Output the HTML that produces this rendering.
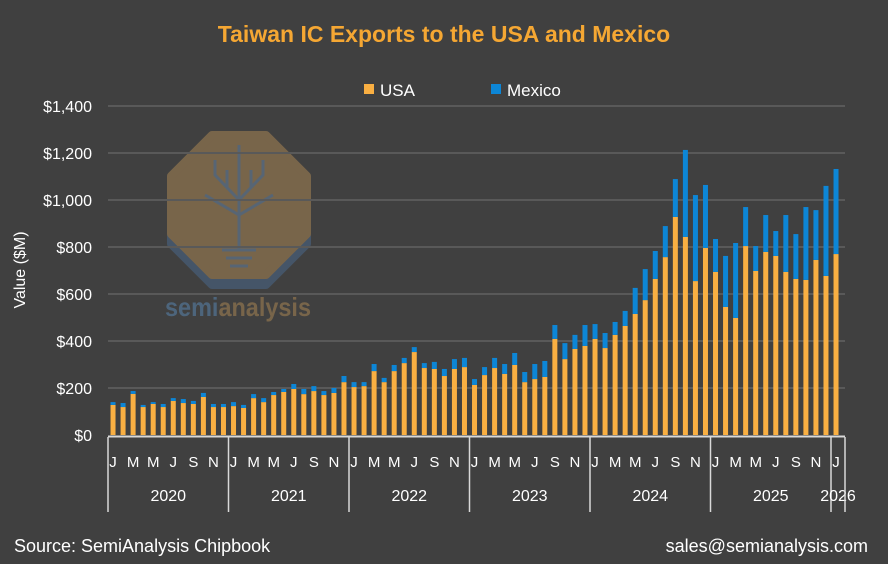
<!DOCTYPE html>
<html><head><meta charset="utf-8"><style>
html,body{margin:0;padding:0;background:#404040;}
svg{display:block;font-family:"Liberation Sans",Arial,sans-serif;}
</style></head><body>
<svg id="chart" width="888" height="564" viewBox="0 0 888 564">
<rect x="0" y="0" width="888" height="564" fill="#404040"/>
<text x="444" y="42" text-anchor="middle" font-size="23" font-weight="bold" fill="#F5A733">Taiwan IC Exports to the USA and Mexico</text>
<g>
<g><rect x="364" y="84" width="10" height="10" fill="#F9AF42"/><text x="380" y="96" font-size="17" fill="#ffffff">USA</text></g>
<g><rect x="491" y="84" width="10" height="10" fill="#0D86D6"/><text x="507" y="96" font-size="17" fill="#ffffff">Mexico</text></g>
</g>
<g opacity="0.5">
<polygon points="212,145 266,145 307,186 307,244 266,285 212,285 171,244 171,186" fill="#4a6a90" stroke="#4a6a90" stroke-width="8" stroke-linejoin="round"/>
<polygon points="212,135 266,135 307,176 307,234 266,275 212,275 171,234 171,176" fill="#B08A55" stroke="#B08A55" stroke-width="8" stroke-linejoin="round"/>
<g stroke="#6f8aa8" stroke-width="3" fill="none">
<path d="M239,145 V250 M239,200 L215,175 V160 M239,200 L263,175 V160 M239,215 L205,195 M239,215 L273,195 M227,188 V170 M251,188 V170"/>
<path d="M222,250 H256 M226,258 H252 M230,266 H248"/>
</g>
<text x="238" y="316" text-anchor="middle" font-size="26" font-weight="bold" textLength="146" lengthAdjust="spacingAndGlyphs"><tspan fill="#5a8ab8">semi</tspan><tspan fill="#B08A55">analysis</tspan></text>
</g>
<g id="grid"></g>
<g id="yaxis"></g>
<text transform="translate(25,270) rotate(-90)" text-anchor="middle" font-size="16" fill="#ffffff">Value ($M)</text>
<g id="bars"></g>
<g id="xaxis"></g>
<text x="14" y="552" font-size="18" fill="#ffffff">Source: SemiAnalysis Chipbook</text>
<text x="868" y="552" text-anchor="end" font-size="18" fill="#ffffff">sales@semianalysis.com</text>
</svg>
<script>
const years = ["2020","2021","2022","2023","2024","2025","2026"];
const monthLetters = ["J","F","M","A","M","J","J","A","S","O","N","D"];
const yTicks = [0,200,400,600,800,1000,1200,1400];
const usaValues = [128,119,175,119,132,119,145,136,132,162,119,119,
123,115,157,140,170,183,196,174,187,170,179,225,
204,208,272,225,272,306,353,285,281,251,281,289,
213,255,285,260,298,225,238,247,409,323,366,379,
409,370,426,464,515,574,664,757,928,843,655,796,
694,545,498,804,698,779,762,694,664,660,745,677,
770];
const totalValues = [140,136,187,128,140,132,157,153,145,179,132,132,
140,128,174,157,183,196,217,196,208,187,200,251,
225,225,302,243,298,328,374,306,311,281,323,328,
238,289,328,302,349,268,302,315,468,391,426,468,
472,434,481,528,626,706,783,889,1089,1213,1021,1064,
834,762,817,970,804,936,868,936,855,970,957,1060,
1132];
const mexicoValues = totalValues.map((t,i)=>t-usaValues[i]);
const NS="http://www.w3.org/2000/svg";
const x0=108, monthW=120.5/12, y0=435, yPerUnit=329/1400;
const xAt=i=>x0+monthW*(i+0.5);
const yAt=v=>y0-v*yPerUnit;
function mk(tag,attrs,parent){const e=document.createElementNS(NS,tag);for(const k in attrs)e.setAttribute(k,attrs[k]);parent.appendChild(e);return e;}
const grid=document.getElementById('grid'), yax=document.getElementById('yaxis');
yTicks.forEach(v=>{
  if(v>0){const l=mk('line',{x1:108,x2:845,y1:yAt(v),y2:yAt(v),stroke:'#595959','stroke-width':2},grid);
  
  }
  const t=mk('text',{x:92,y:yAt(v)+6,'text-anchor':'end','font-size':16,fill:'#ffffff'},yax);
  t.textContent='$'+v.toLocaleString('en-US');
  
  
});
const bars=document.getElementById('bars');
usaValues.forEach((u,i)=>{
  const x=xAt(i)-2.5;
  const r1=mk('rect',{x:x,y:yAt(u),width:5,height:y0-yAt(u),fill:'#F9AF42'},bars);
  
  
  const m=mexicoValues[i];
  const r2=mk('rect',{x:x,y:yAt(u+m),width:5,height:m*yPerUnit,fill:'#0D86D6'},bars);
  
  
});
const xa=document.getElementById('xaxis');
const axl=mk('line',{x1:108,x2:845,y1:436.5,y2:436.5,stroke:'#d9d9d9','stroke-width':2},xa);


const n=usaValues.length;
for(let i=0;i<n;i+=2){
  const t=mk('text',{x:xAt(i),y:467,'text-anchor':'middle','font-size':15,fill:'#ffffff'},xa);
  t.textContent=monthLetters[i%12];
  
  
}
years.forEach((y,k)=>{
  const s=x0+120.5*k;
  const e=Math.min(x0+120.5*(k+1),845);
  const sep=mk('line',{x1:s,x2:s,y1:437,y2:512,stroke:'#d9d9d9','stroke-width':1.5},xa);
  
  
  const t=mk('text',{x:(s+e)/2,y:501,'text-anchor':'middle','font-size':16,fill:'#ffffff'},xa);
  t.textContent=y;
  
  
});
const endl=mk('line',{x1:845,x2:845,y1:437,y2:512,stroke:'#d9d9d9','stroke-width':1.5},xa);


</script>
</body></html>
